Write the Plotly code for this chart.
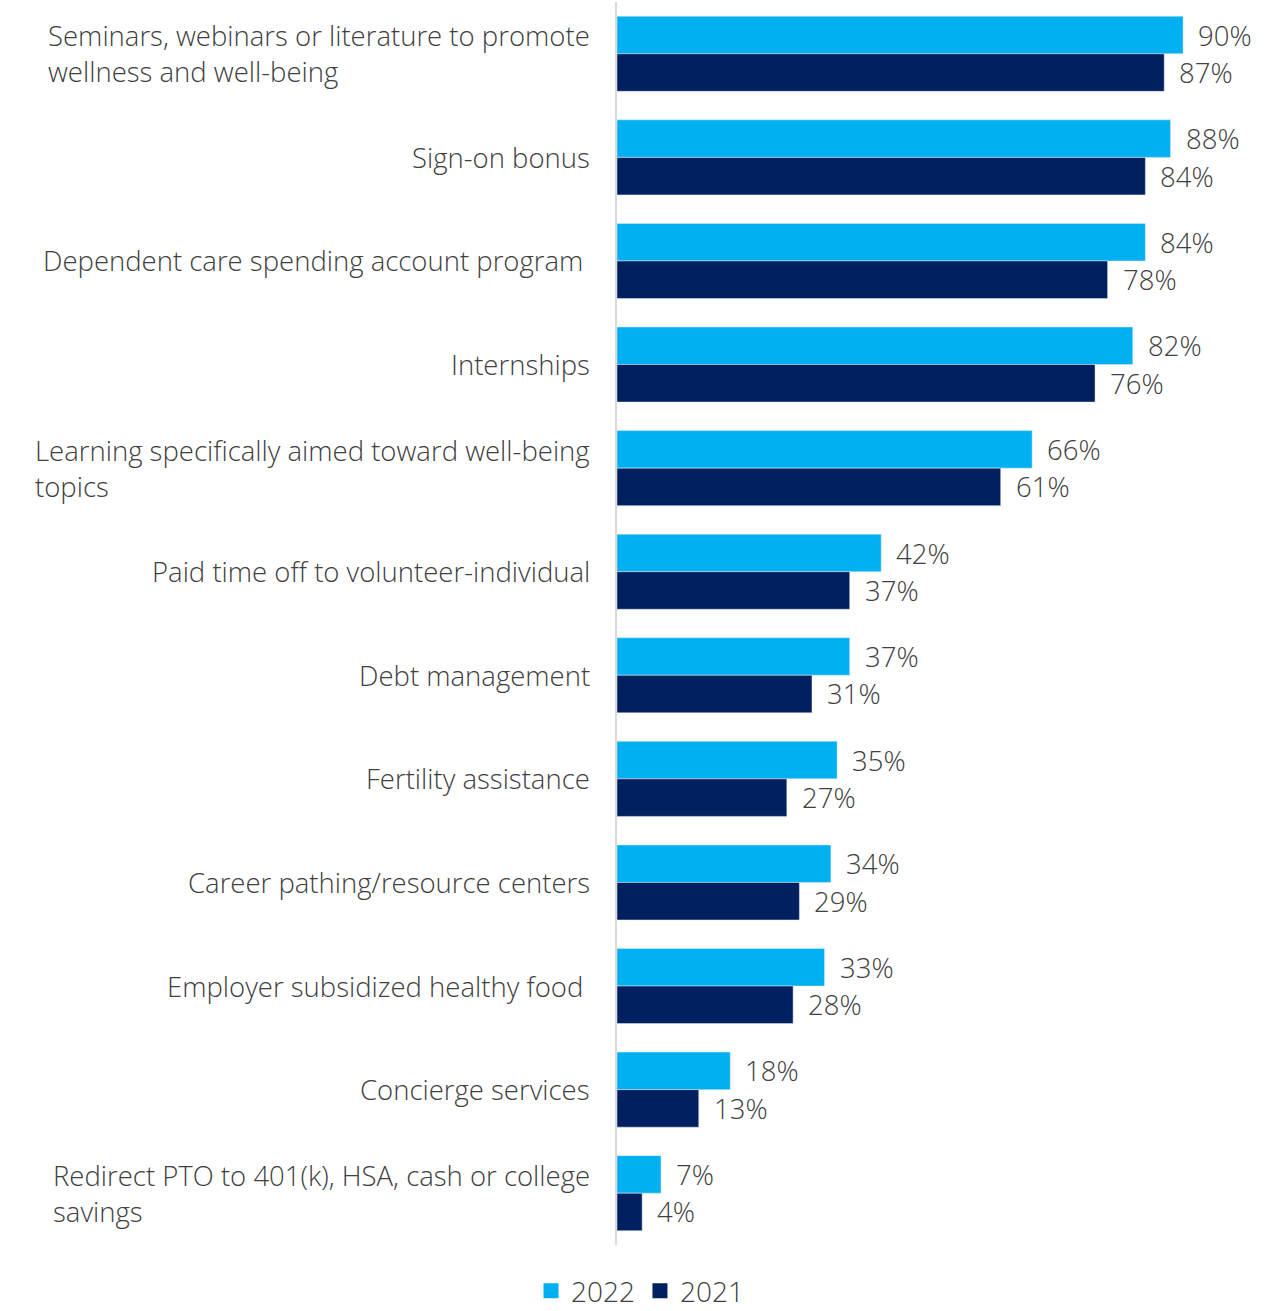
import plotly.graph_objects as go

# Benefit categories, top to bottom
categories = [
    "Seminars, webinars or literature to promote<br>wellness and well-being",
    "Sign-on bonus",
    "Dependent care spending account program\u00a0",
    "Internships",
    "Learning specifically aimed toward well-being<br>topics",
    "Paid time off to volunteer-individual",
    "Debt management",
    "Fertility assistance",
    "Career pathing/resource centers",
    "Employer subsidized healthy food\u00a0",
    "Concierge services",
    "Redirect PTO to 401(k), HSA, cash or college<br>savings",
]
values_2022 = [90, 88, 84, 82, 66, 42, 37, 35, 34, 33, 18, 7]
values_2021 = [87, 84, 78, 76, 61, 37, 31, 27, 29, 28, 13, 4]
series_names = ["2022", "2021"]

FONT = "Open Sans"
WEIGHT = 300
TEXT_COLOR = "#404040"
COLORS = ["#00B0F0", "#002060"]

idx = list(range(len(categories)))

fig = go.Figure()
for name, vals, col in zip(series_names, [values_2022, values_2021], COLORS):
    fig.add_trace(go.Bar(
        name=name, y=idx, x=vals, orientation="h",
        marker=dict(color=col), showlegend=False,
    ))
# square legend keys on a hidden overlay axis (point sits outside its range)
for name, col in zip(series_names, COLORS):
    fig.add_trace(go.Scatter(
        name=name, x=[-1], y=[-1], xaxis="x2", yaxis="y2", mode="markers",
        marker=dict(symbol="square", size=15, color=col), hoverinfo="skip",
    ))

label_font = dict(family=FONT, size=27.5, color=TEXT_COLOR, weight=WEIGHT)

annotations = []
# category labels to the left of the axis
for i, cat in enumerate(categories):
    annotations.append(dict(
        x=0, y=i, xref="x", yref="y", text=cat, showarrow=False,
        xanchor="right", yanchor="middle", align="left", xshift=-25,
        font=label_font,
    ))
# value labels just past each bar
bar_half = 0.18
for i, (a, b) in enumerate(zip(values_2022, values_2021)):
    annotations.append(dict(
        x=a, y=i - bar_half, xref="x", yref="y", text=f"{a}%", showarrow=False,
        xanchor="left", yanchor="middle", xshift=13, font=label_font,
    ))
    annotations.append(dict(
        x=b, y=i + bar_half, xref="x", yref="y", text=f"{b}%", showarrow=False,
        xanchor="left", yanchor="middle", xshift=13, font=label_font,
    ))

fig.update_layout(
    width=1277, height=1311,
    margin=dict(l=617, r=31, t=2, b=66, autoexpand=False),
    paper_bgcolor="white", plot_bgcolor="white",
    barmode="group", bargap=0.275, bargroupgap=0,
    xaxis=dict(range=[0, 100], visible=False),
    yaxis=dict(range=[len(categories) - 0.5, -0.5], showticklabels=False,
               showgrid=False, zeroline=False, showline=True,
               linecolor="#d9d9d9", linewidth=2, ticks=""),
    xaxis2=dict(range=[0, 1], visible=False, overlaying="x"),
    yaxis2=dict(range=[0, 1], visible=False, overlaying="y"),
    legend=dict(orientation="h", x=0.0366, xanchor="center",
                y=-0.017, yanchor="top",
                font=dict(family=FONT, size=28, color=TEXT_COLOR, weight=WEIGHT),
                itemwidth=30, tracegroupgap=0),
    annotations=annotations,
    showlegend=True,
)

fig.write_html("out.html")
